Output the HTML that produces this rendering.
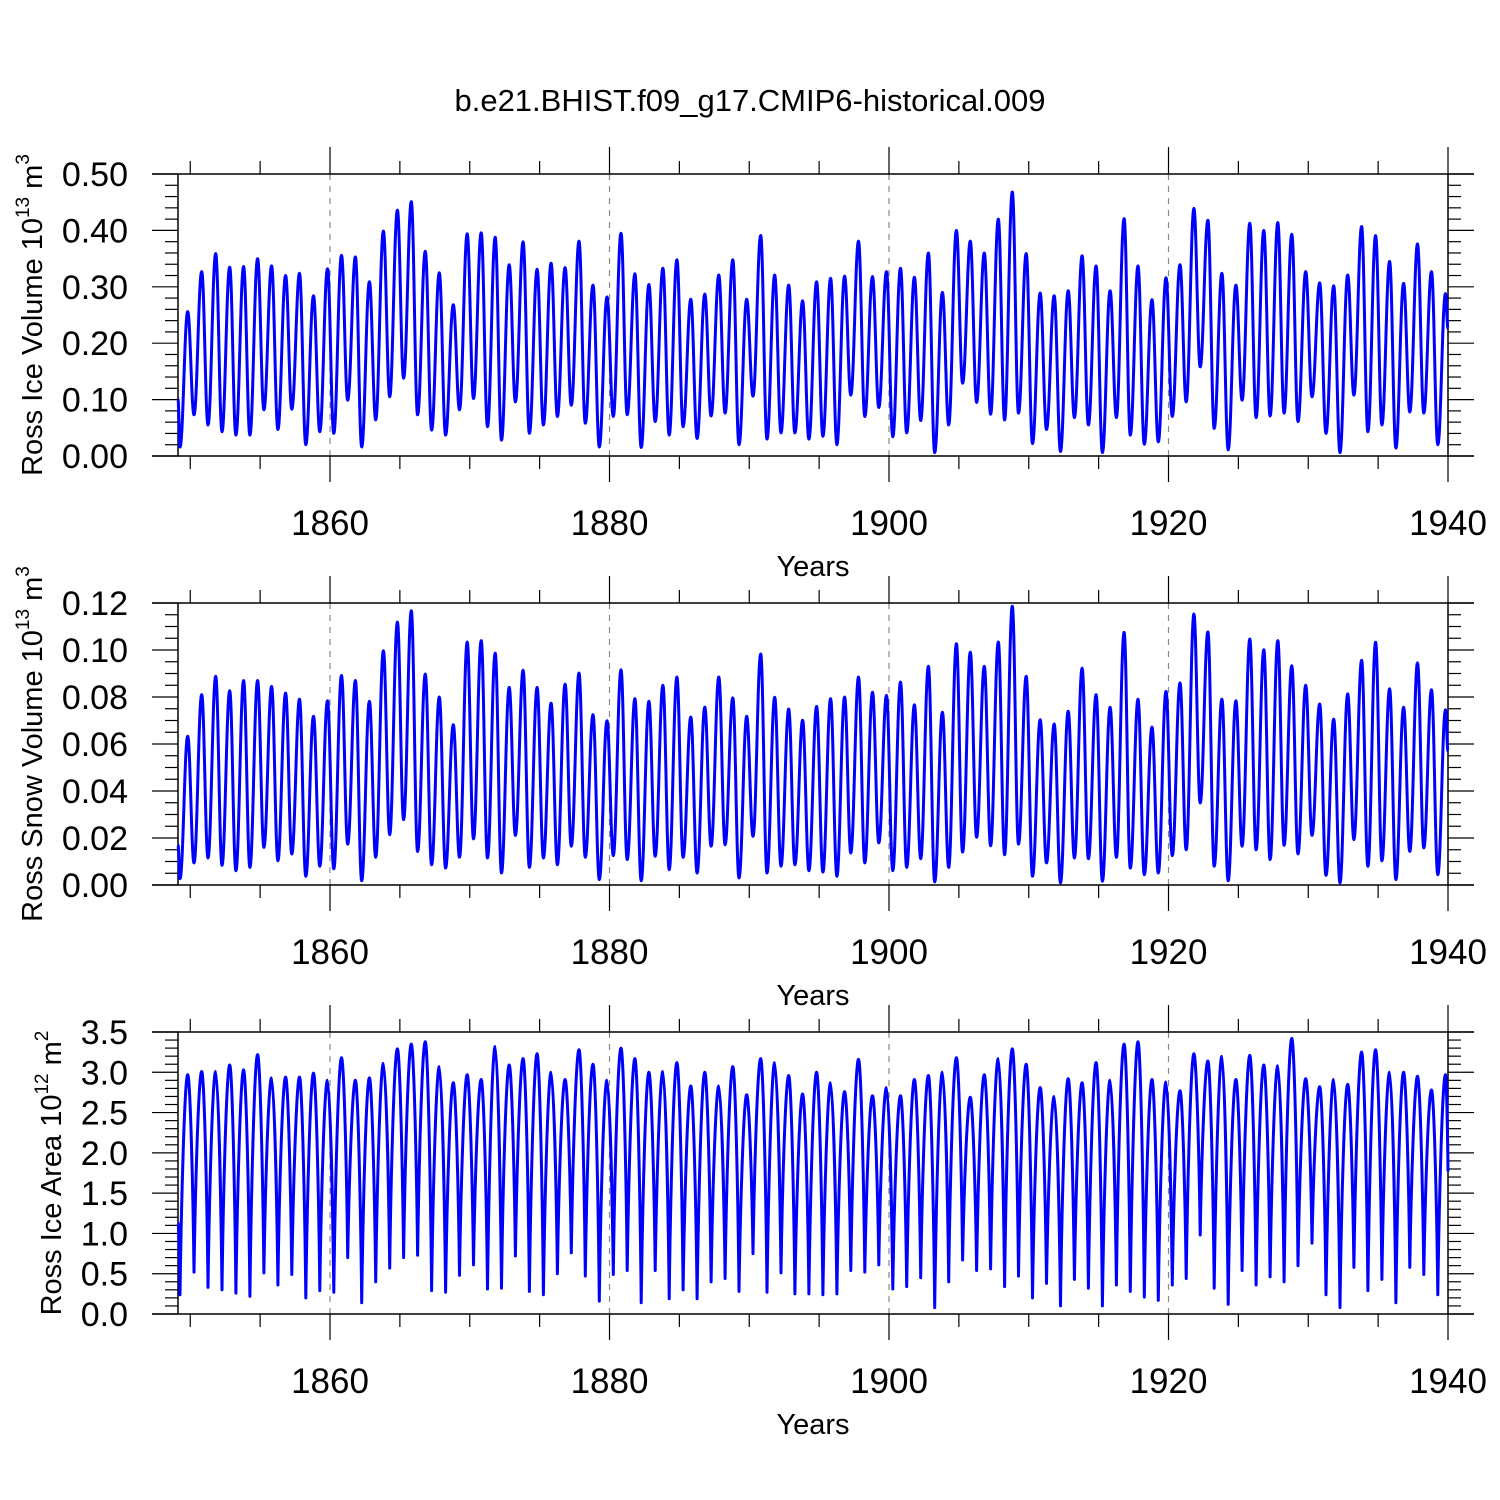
<!DOCTYPE html>
<html><head><meta charset="utf-8">
<style>
html,body{margin:0;padding:0;background:#fff;}
svg{display:block;font-family:"Liberation Sans",Arial,sans-serif;}
</style></head>
<body>
<svg id="chart" width="1500" height="1500" viewBox="0 0 1500 1500" xmlns="http://www.w3.org/2000/svg">
<rect x="0" y="0" width="1500" height="1500" fill="#fff"/>
<text x="750" y="111" font-size="31" text-anchor="middle">b.e21.BHIST.f09_g17.CMIP6-historical.009</text>
</svg>
<script>
// ---- data (annual troughs and peaks) ----
const xTickLabels = ["1860","1880","1900","1920","1940"];
const xTickYears = [1860,1880,1900,1920,1940];
const firstTroughYear = 1849.27;
const startYear = 1849.12;
const endYear = 1940.0;

const volTroughs = [0.016,0.073,0.055,0.043,0.037,0.037,0.082,0.047,0.083,0.020,0.043,0.040,0.099,0.016,0.064,0.105,0.138,0.073,0.046,0.037,0.082,0.102,0.052,0.028,0.096,0.040,0.055,0.070,0.090,0.058,0.016,
0.070,0.073,0.015,0.061,0.037,0.052,0.031,0.071,0.076,0.020,0.106,0.030,0.041,0.041,0.030,0.035,0.020,0.108,0.070,0.086,0.034,0.041,0.063,0.006,0.055,0.129,0.095,0.074,0.064,0.076,
0.022,0.047,0.008,0.068,0.055,0.006,0.068,0.037,0.021,0.025,0.070,0.096,0.158,0.049,0.011,0.099,0.068,0.071,0.076,0.061,0.105,0.040,0.006,0.108,0.043,0.055,0.014,0.078,0.076,0.020];
const volPeaks = [0.256,0.327,0.359,0.335,0.336,0.350,0.337,0.320,0.324,0.284,0.332,0.356,0.353,0.309,0.399,0.436,0.451,0.363,0.325,0.268,0.394,0.396,0.388,0.339,0.380,0.331,0.342,0.334,0.381,0.303,
0.282,0.395,0.323,0.304,0.333,0.348,0.278,0.287,0.321,0.348,0.278,0.391,0.321,0.303,0.275,0.309,0.315,0.319,0.381,0.318,0.327,0.333,0.317,0.360,0.290,0.400,0.381,0.360,0.420,0.468,0.359,
0.289,0.284,0.293,0.355,0.337,0.293,0.421,0.337,0.277,0.316,0.339,0.439,0.418,0.324,0.303,0.413,0.400,0.414,0.393,0.327,0.307,0.302,0.321,0.407,0.391,0.345,0.306,0.376,0.327,0.288];
const volStart = 0.10, volEnd = 0.226;

const snowTroughs = [0.0027,0.0094,0.0115,0.0084,0.0061,0.0075,0.0160,0.0103,0.0132,0.0037,0.0080,0.0069,0.0174,0.0018,0.0118,0.0214,0.0278,0.0143,0.0086,0.0072,0.0118,0.0196,0.0115,0.0051,0.0211,0.0075,0.0115,0.0086,0.0165,0.0118,0.0023,
0.0125,0.0108,0.0018,0.0122,0.0065,0.0118,0.0051,0.0165,0.0171,0.0030,0.0207,0.0051,0.0080,0.0086,0.0061,0.0055,0.0037,0.0136,0.0094,0.0179,0.0061,0.0075,0.0112,0.0013,0.0075,0.0140,0.0203,0.0167,0.0129,0.0174,
0.0037,0.0094,0.0009,0.0115,0.0112,0.0016,0.0118,0.0072,0.0044,0.0051,0.0125,0.0150,0.0349,0.0080,0.0018,0.0165,0.0150,0.0108,0.0169,0.0132,0.0211,0.0041,0.0009,0.0193,0.0080,0.0103,0.0023,0.0143,0.0158,0.0044];
const snowPeaks = [0.0633,0.0810,0.0888,0.0827,0.0870,0.0870,0.0845,0.0817,0.0791,0.0718,0.0784,0.0892,0.0870,0.0782,0.0997,0.1119,0.1167,0.0898,0.0800,0.0682,0.1034,0.1040,0.0987,0.0841,0.0914,0.0841,0.0774,0.0855,0.0902,0.0725,
0.0699,0.0916,0.0793,0.0782,0.0850,0.0885,0.0715,0.0757,0.0885,0.0796,0.0718,0.0983,0.0799,0.0749,0.0701,0.0760,0.0793,0.0800,0.0885,0.0820,0.0807,0.0864,0.0767,0.0931,0.0735,0.1027,0.0991,0.0931,0.1034,0.1186,0.0888,
0.0703,0.0685,0.0739,0.0923,0.0810,0.0756,0.1075,0.0791,0.0672,0.0824,0.0860,0.1153,0.1077,0.0791,0.0784,0.1047,0.1001,0.1040,0.0933,0.0850,0.0770,0.0706,0.0813,0.0956,0.1033,0.0835,0.0756,0.0945,0.0831,0.0746];
const snowStart = 0.017, snowEnd = 0.0569;

const areaTroughs = [0.24,0.52,0.33,0.30,0.26,0.22,0.51,0.36,0.49,0.20,0.29,0.27,0.70,0.14,0.40,0.57,0.70,0.73,0.29,0.27,0.48,0.61,0.31,0.32,0.72,0.28,0.24,0.50,0.76,0.47,0.16,
0.49,0.54,0.14,0.54,0.19,0.30,0.19,0.40,0.44,0.28,0.75,0.27,0.51,0.25,0.25,0.24,0.25,0.54,0.52,0.61,0.31,0.34,0.45,0.08,0.40,0.67,0.54,0.56,0.34,0.47,
0.20,0.38,0.10,0.43,0.32,0.10,0.36,0.28,0.21,0.17,0.36,0.44,0.98,0.32,0.12,0.54,0.36,0.46,0.40,0.60,0.88,0.24,0.08,0.58,0.29,0.43,0.14,0.58,0.49,0.24];
const areaPeaks = [2.97,3.01,3.01,3.09,3.03,3.22,2.93,2.94,2.94,2.99,2.90,3.18,2.90,2.93,3.11,3.29,3.35,3.38,3.07,2.87,2.97,2.91,3.32,3.09,3.17,3.23,3.00,2.91,3.28,3.10,
2.90,3.30,3.17,3.00,3.01,3.12,2.83,3.00,2.83,3.07,2.72,3.17,3.12,2.96,2.73,3.00,2.87,2.76,3.16,2.71,2.81,2.71,2.91,2.96,3.00,3.18,2.69,2.97,3.17,3.29,3.10,
2.81,2.70,2.92,2.87,3.12,2.90,3.35,3.38,2.91,2.88,2.77,3.23,3.14,3.20,2.91,3.21,3.09,3.08,3.42,2.92,2.82,2.91,2.85,3.25,3.28,3.00,3.00,2.95,2.78,2.97];
const areaStart = 1.13, areaEnd = 1.77;

const volTicks = ["0.00","0.10","0.20","0.30","0.40","0.50"];
const snowTicks = ["0.00","0.02","0.04","0.06","0.08","0.10","0.12"];
const areaTicks = ["0.0","0.5","1.0","1.5","2.0","2.5","3.0","3.5"];
</script>
<script>
const NS = "http://www.w3.org/2000/svg";
const svg = document.getElementById('chart');
const XL = 152, XR = 1474, YAL = 178, YAR = 1448;
function xScale(yr){ return 330 + (yr - 1860) * (1448 - 330) / 80; }
function mk(tag, attrs, parent){
  const e = document.createElementNS(NS, tag);
  for (const k in attrs) e.setAttribute(k, attrs[k]);
  (parent || svg).appendChild(e);
  return e;
}
const panels = [
  {key:'ice-volume', top:174, bot:456, max:0.5, ticks:volTicks, minorStep:0.02, troughs:volTroughs, peaks:volPeaks, start:volStart, end:volEnd, title:['Ross Ice Volume 10','13',' m','3'], titleX:42, shape:'vol'},
  {key:'snow-volume', top:603, bot:885, max:0.12, ticks:snowTicks, minorStep:0.005, troughs:snowTroughs, peaks:snowPeaks, start:snowStart, end:snowEnd, title:['Ross Snow Volume 10','13',' m','3'], titleX:42, shape:'vol'},
  {key:'ice-area', top:1032, bot:1314, max:3.5, ticks:areaTicks, minorStep:0.1, troughs:areaTroughs, peaks:areaPeaks, start:areaStart, end:areaEnd, title:['Ross Ice Area 10','12',' m','2'], titleX:61, shape:'area'}
];
panels.forEach(p => {
  const g = mk('g', {});
  
  
  const yS = v => p.bot - v / p.max * (p.bot - p.top);
  [1860,1880,1900,1920].forEach(yr => {
    const l = mk('line', {x1:xScale(yr), x2:xScale(yr), y1:p.top, y2:p.bot, stroke:'#888', 'stroke-width':1.2, 'stroke-dasharray':'6,6'}, g);
    
    
  });
  mk('line', {x1:XL, x2:XR, y1:p.top, y2:p.top, stroke:'#000', 'stroke-width':1.5}, g);
  mk('line', {x1:XL, x2:XR, y1:p.bot, y2:p.bot, stroke:'#000', 'stroke-width':1.5}, g);
  mk('line', {x1:YAL, x2:YAL, y1:p.top, y2:p.bot, stroke:'#000', 'stroke-width':1.5}, g);
  mk('line', {x1:YAR, x2:YAR, y1:p.top, y2:p.bot, stroke:'#000', 'stroke-width':1.5}, g);
  const nMin = Math.round(p.max / p.minorStep);
  const per = Math.round((p.max/(p.ticks.length-1))/p.minorStep);
  for (let i = 0; i <= nMin; i++) {
    const y = yS(i * p.minorStep);
    const len = (i % per === 0) ? 26 : 13;
    mk('line', {x1:YAL-len, x2:YAL, y1:y, y2:y, stroke:'#000', 'stroke-width':1.2}, g);
    mk('line', {x1:YAR, x2:YAR+len, y1:y, y2:y, stroke:'#000', 'stroke-width':1.2}, g);
  }
  p.ticks.forEach((t, i) => {
    const y = yS(i * p.max / (p.ticks.length - 1));
    const tx = mk('text', {x:128, y:y+12, 'font-size':34, 'text-anchor':'end'}, g);
    tx.textContent = t;
    
    
  });
  for (let yr = 1850; yr <= 1935; yr += 5) {
    if (yr % 20 === 0) continue;
    const x = xScale(yr);
    mk('line', {x1:x, x2:x, y1:p.top-13, y2:p.top, stroke:'#000', 'stroke-width':1.2}, g);
    mk('line', {x1:x, x2:x, y1:p.bot, y2:p.bot+13, stroke:'#000', 'stroke-width':1.2}, g);
  }
  xTickYears.forEach((yr, i) => {
    const x = xScale(yr);
    mk('line', {x1:x, x2:x, y1:p.top-27, y2:p.top, stroke:'#000', 'stroke-width':1.2}, g);
    mk('line', {x1:x, x2:x, y1:p.bot, y2:p.bot+26, stroke:'#000', 'stroke-width':1.2}, g);
    const tx = mk('text', {x:x, y:p.bot+79, 'font-size':35, 'text-anchor':'middle'}, g);
    tx.textContent = xTickLabels[i];
    
    
  });
  const xt = mk('text', {x:813, y:p.bot+120, 'font-size':29, 'text-anchor':'middle'}, g);
  xt.textContent = 'Years';
  
  
  const cy = (p.top + p.bot) / 2;
  const yt = mk('text', {x:0, y:0, 'font-size':29, 'text-anchor':'middle', transform:`translate(${p.titleX},${cy}) rotate(-90)`}, g);
  
  
  const s1 = mk('tspan', {}, yt); s1.textContent = p.title[0];
  const s2 = mk('tspan', {dy:-13, 'font-size':19}, yt); s2.textContent = p.title[1];
  const s3 = mk('tspan', {dy:13}, yt); s3.textContent = p.title[2];
  const s4 = mk('tspan', {dy:-13, 'font-size':19}, yt); s4.textContent = p.title[3];
  const pts = [];
  pts.push([xScale(startYear), yS(p.start)]);
  const n = p.troughs.length;
  for (let k = 0; k < n; k++) {
    pts.push([xScale(firstTroughYear + k), yS(p.troughs[k])]);
    pts.push([xScale(firstTroughYear + k + 0.55), yS(p.peaks[k])]);
  }
  pts.push([xScale(endYear), yS(p.end)]);
  let d = `M${pts[0][0].toFixed(1)},${pts[0][1].toFixed(1)}`;
  for (let i = 1; i < pts.length; i++) {
    const [x0,y0] = pts[i-1], [x1,y1] = pts[i], dx = x1 - x0, dy = y1 - y0;
    let c1, c2;
    if (p.shape === 'area') {
      if (dy < 0) { c1 = [x0 + 0.15*dx, y0 + 0.4*dy]; c2 = [x1 - 0.4*dx, y1]; }
      else { c1 = [x0 + 0.4*dx, y0]; c2 = [x1 - 0.15*dx, y1 - 0.4*dy]; }
    } else { c1 = [x0 + 0.4*dx, y0]; c2 = [x1 - 0.4*dx, y1]; }
    d += ` C${c1[0].toFixed(1)},${c1[1].toFixed(1)} ${c2[0].toFixed(1)},${c2[1].toFixed(1)} ${x1.toFixed(1)},${y1.toFixed(1)}`;
  }
  const path = mk('path', {d:d, fill:'none', stroke:'#0000ff', 'stroke-width':3, 'stroke-linejoin':'round'}, g);
  
  
});
</script>
</body></html>
